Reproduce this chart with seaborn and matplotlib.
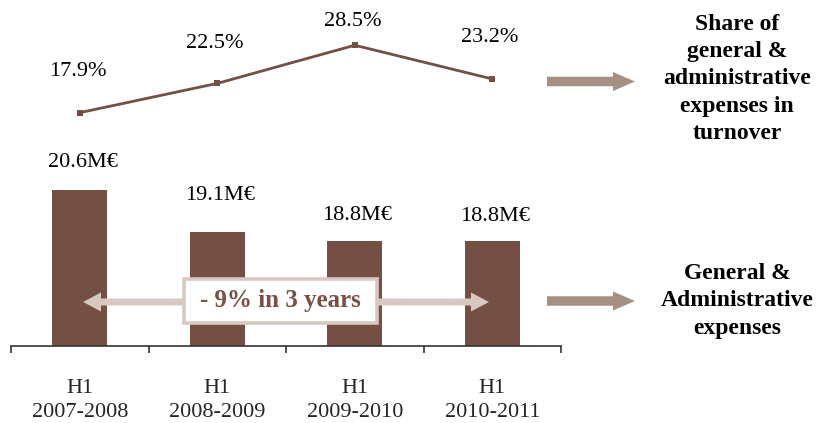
import numpy as np
import matplotlib
matplotlib.use("Agg")
import matplotlib.pyplot as plt
from matplotlib.patches import FancyArrow, Rectangle
import seaborn as sns

# --- data ---------------------------------------------------------------
periods = ["H1\n2007-2008", "H1\n2008-2009", "H1\n2009-2010", "H1\n2010-2011"]
expenses_meur = [20.6, 19.1, 18.8, 18.8]          # General & administrative expenses (M€)
share_pct = [17.9, 22.5, 28.5, 23.2]              # Share of G&A expenses in turnover (%)
expense_labels = ["20.6M€", "19.1M€", "18.8M€", "18.8M€"]
share_labels = ["17.9%", "22.5%", "28.5%", "23.2%"]
change_text = "- 9% in 3 years"
side_top = "Share of\ngeneral &\nadministrative\nexpenses in\nturnover"
side_bottom = "General &\nAdministrative\nexpenses"

# --- style --------------------------------------------------------------
sns.set_theme(style="white")
plt.rcParams["font.family"] = ["Liberation Serif", "DejaVu Serif"]

BAR_COLOR = "#744F44"
SIDE_ARROW = "#A59082"
SPAN_ARROW = "#D8C8BF"
BOX_TEXT = "#7A5045"

W, H, DPI = 825, 423, 100
fig = plt.figure(figsize=(W / DPI, H / DPI), dpi=DPI)

# plot area in pixels
x0, x1 = 11, 561
y_base, y_top = 346, 5
ax = fig.add_axes([x0 / W, (H - y_base) / H, (x1 - x0) / W, (y_base - y_top) / H])
ax_h = y_base - y_top

# bar scale: pixels per M€, value at the baseline
bar_px, bar_floor = 28.2, 15.07
ax.set_ylim(bar_floor, bar_floor + ax_h / bar_px)

sns.barplot(x=np.arange(len(periods)), y=expenses_meur, color=BAR_COLOR,
            saturation=1, width=0.4, ax=ax, native_scale=True, zorder=2)
for p in ax.patches:
    p.set_edgecolor("none")
ax.set_xlim(-0.5, len(periods) - 0.5)

# line on its own scale
ax2 = ax.twinx()
line_px, line_zero_px = 6.36, 226.5
ax2.set_ylim(-(y_base - line_zero_px) / line_px, (line_zero_px - y_top) / line_px)
sns.lineplot(x=np.arange(len(periods)), y=share_pct, color=BAR_COLOR, lw=2.0,
             marker="s", markersize=4.5, markeredgewidth=0, ax=ax2, zorder=3)
ax.set_xlim(-0.5, len(periods) - 0.5)

# value labels
bar_offsets_px = [28, 37, 25, 24]
for i, (v, lab) in enumerate(zip(expenses_meur, expense_labels)):
    ax.annotate(lab, (i, v), xytext=(2, bar_offsets_px[i] * 0.72), textcoords="offset points",
                ha="center", va="center", fontsize=16, color="black")
share_offsets_px = [41, 40, 24, 41]
for i, (v, lab) in enumerate(zip(share_pct, share_labels)):
    ax2.annotate(lab, (i, v), xytext=(-1.5, share_offsets_px[i] * 0.72), textcoords="offset points",
                 ha="center", va="center", fontsize=16, color="black")

# axes cosmetics
for a in (ax, ax2):
    for s in ("top", "right", "left"):
        a.spines[s].set_visible(False)
    a.set_yticks([])
    a.set_ylabel("")
ax2.spines["bottom"].set_visible(False)
ax.spines["bottom"].set_color("#333333")
ax.spines["bottom"].set_linewidth(1.2)
ax.set_xticks(np.arange(len(periods)))
ax.set_xticklabels(periods, fontsize=16, linespacing=1.35)
ax.tick_params(axis="x", which="major", length=0, pad=24)
ax.set_xticks(np.arange(-0.5, len(periods)), minor=True)
ax.tick_params(axis="x", which="minor", length=5, width=1.2, color="#333333",
               direction="out", bottom=True)
ax.set_xlabel("")
ax2.xaxis.set_visible(False)

# overlay in pixel coordinates for the annotations
ov = fig.add_axes([0, 0, 1, 1], facecolor="none")
ov.set_xlim(0, W)
ov.set_ylim(H, 0)
ov.axis("off")

# double arrow spanning the bars
cx, cy = 281, 302
for tip in (83, 489):
    ov.add_patch(FancyArrow(cx, cy, tip - cx, 0, width=7, head_width=19, head_length=18,
                            length_includes_head=True, color=SPAN_ARROW, lw=0, zorder=4))
ov.add_patch(Rectangle((184, 279), 193, 44, facecolor="white", edgecolor=SPAN_ARROW,
                       lw=2.6, zorder=5))
ov.text(280, 301, change_text, ha="center", va="center", fontsize=18,
        fontweight="bold", color=BOX_TEXT, zorder=6)

# side arrows and captions
for ay in (81.5, 301):
    ov.add_patch(FancyArrow(547, ay, 88, 0, width=9.5, head_width=19, head_length=22,
                            length_includes_head=True, color=SIDE_ARROW, lw=0))
ov.text(737, 79, side_top, ha="center", va="center", fontsize=17, fontweight="bold",
        linespacing=1.38, color="black")
ov.text(737, 301, side_bottom, ha="center", va="center", fontsize=17, fontweight="bold",
        linespacing=1.38, color="black")

fig.savefig("out.png", dpi=DPI)
